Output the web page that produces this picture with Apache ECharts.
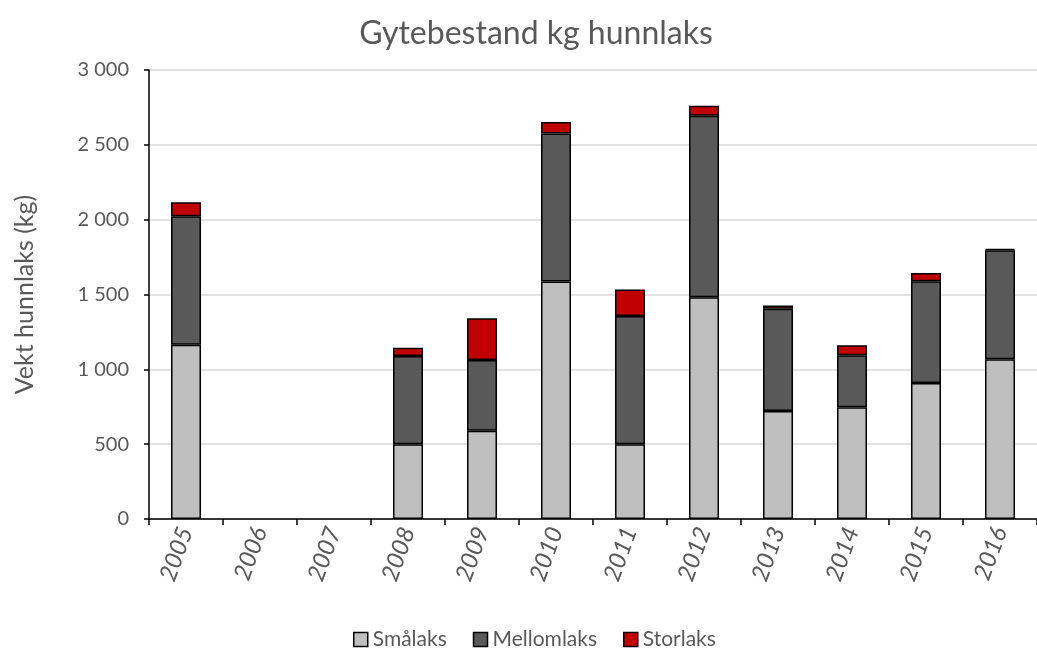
<!DOCTYPE html>
<html>
<head>
<meta charset="utf-8">
<script src="https://cdn.jsdelivr.net/npm/echarts@6/dist/echarts.min.js"></script>
<style>html,body{margin:0;padding:0;background:#fff;overflow:hidden}#c{width:1037px;height:653px}</style>
</head>
<body>
<div id="c"></div>
<script>
var years = ['2005','2006','2007','2008','2009','2010','2011','2012','2013','2014','2015','2016'];
var smalaks = [1165, null, null, 500, 590, 1587, 500, 1482, 721, 746, 908, 1067];
var mellomlaks = [857, null, null, 589, 472, 989, 857, 1212, 683, 348, 681, 729];
var storlaks = [94, null, null, 56, 280, 76, 176, 67, 22, 67, 54, 8];
var yTicks = [0, 500, 1000, 1500, 2000, 2500, 3000];

var FONT = 'Lato';
var TXT = '#595959';
function fmt(v){ return String(v).replace(/\B(?=(\d{3})+(?!\d))/g, ' '); }

var chart = echarts.init(document.getElementById('c'));
function ser(name, data, color){
  return {name:name, type:'bar', stack:'s', data:data, barWidth:30,
    itemStyle:{color:color, borderColor:'#000', borderWidth:1.5}};
}
chart.setOption({
  animation:false,
  textStyle:{fontFamily:FONT},
  title:{text:'Gytebestand kg hunnlaks', left:531, top:13, textAlign:'center',
    textStyle:{fontFamily:FONT, fontSize:32, fontWeight:'normal', color:TXT}},
  legend:{top:624, left:348, icon:'rect', itemWidth:14, itemHeight:14, itemGap:26,
    textStyle:{fontFamily:FONT, fontSize:21, color:TXT},
    itemStyle:{borderColor:'#000', borderWidth:1.5},
    data:['Smålaks','Mellomlaks','Storlaks']},
  grid:{left:149, width:899, top:70, height:449, containLabel:false},
  xAxis:{type:'category', data:years,
    axisLine:{lineStyle:{color:'#000', width:1.5}},
    axisTick:{show:true, length:6, lineStyle:{color:'#000', width:1.5}},
    axisLabel:{rotate:70, color:TXT, fontSize:24, fontFamily:FONT, margin:9, fontStyle:'italic'}},
  yAxis:{type:'value', min:yTicks[0], max:yTicks[yTicks.length-1], interval:yTicks[1]-yTicks[0],
    name:'Vekt hunnlaks (kg)', nameLocation:'middle', nameGap:112,
    nameTextStyle:{color:TXT, fontSize:25, fontFamily:FONT},
    axisLine:{show:true, lineStyle:{color:'#000', width:1.5}},
    axisTick:{show:true, length:5, lineStyle:{color:'#000', width:1.5}},
    axisLabel:{color:TXT, fontSize:20, fontFamily:FONT, margin:20, formatter:fmt},
    splitLine:{lineStyle:{color:'#d9d9d9', width:1.5}}},
  series:[ser('Smålaks', smalaks, '#bfbfbf'), ser('Mellomlaks', mellomlaks, '#595959'), ser('Storlaks', storlaks, '#c00000')]
});
</script>
</body>
</html>
